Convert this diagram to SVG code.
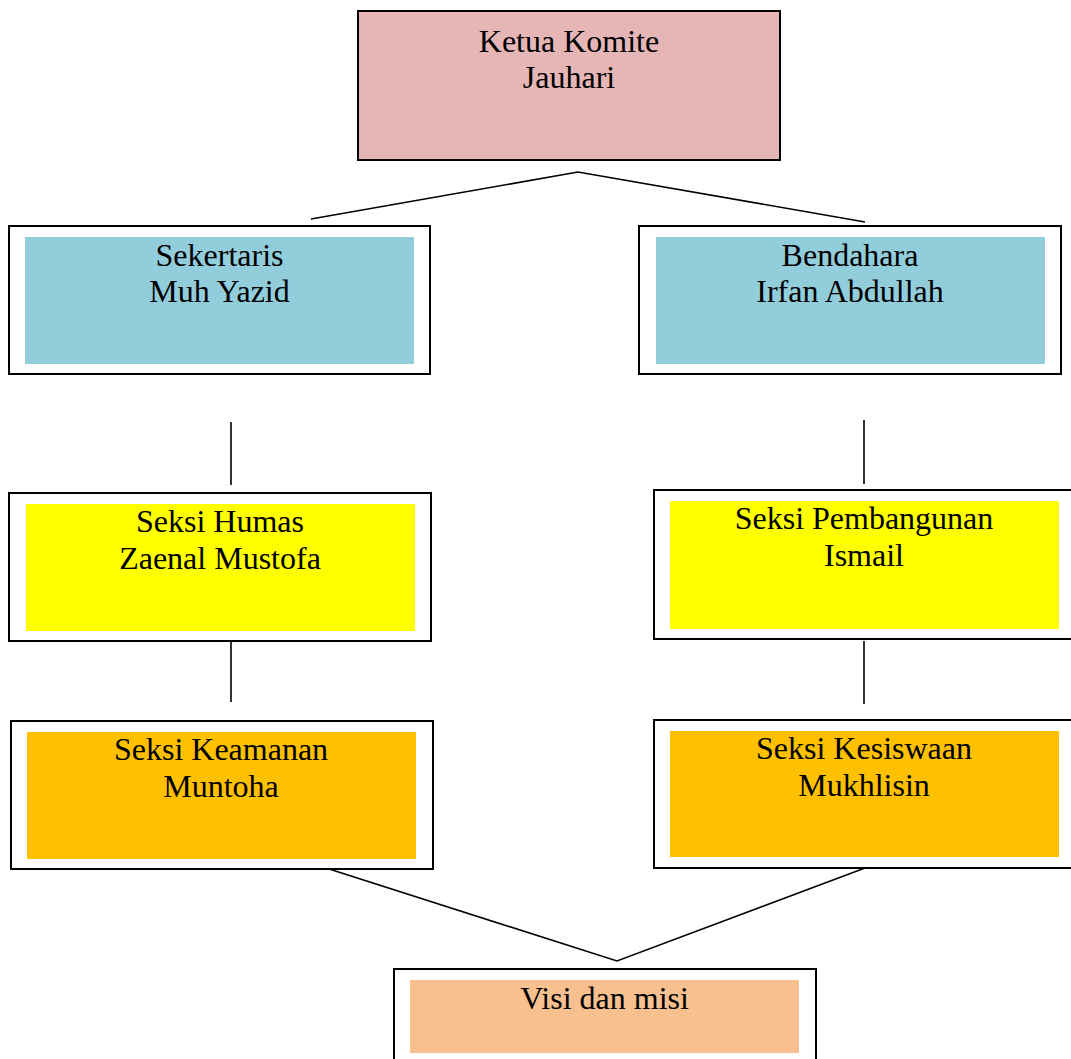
<svg xmlns="http://www.w3.org/2000/svg" width="1071" height="1059" viewBox="0 0 1071 1059">
<style>
.outer{fill:#ffffff;stroke:#000000;stroke-width:2}
.lbl{font-family:"Liberation Serif","Times New Roman",serif;font-size:32px;fill:#000000;text-anchor:middle}
.con{fill:none;stroke:#000000;stroke-width:1.6}
</style>
<rect width="1071" height="1059" fill="#ffffff"/>
<g id="connectors">
<polyline class="con" points="311,219 578,172 865,222"/>
<line class="con" x1="231" y1="422" x2="231" y2="485"/>
<line class="con" x1="864" y1="420" x2="864" y2="484"/>
<line class="con" x1="231" y1="638" x2="231" y2="702"/>
<line class="con" x1="864" y1="641" x2="864" y2="704"/>
<polyline class="con" points="326,868 617,961 865,868"/>
</g>
<g id="ketua">
<rect x="358" y="11" width="422" height="149" fill="#E6B6B7" stroke="#000" stroke-width="2"/>
<text class="lbl" x="569" y="52">Ketua Komite</text>
<text class="lbl" x="569" y="88">Jauhari</text>
</g>
<g id="sekertaris">
<rect class="outer" x="9" y="226" width="421" height="148"/>
<rect x="25" y="237" width="389" height="127" fill="#92CDDC"/>
<text class="lbl" x="219.5" y="266">Sekertaris</text>
<text class="lbl" x="219.5" y="302">Muh Yazid</text>
</g>
<g id="bendahara">
<rect class="outer" x="639" y="226" width="422" height="148"/>
<rect x="656" y="237" width="389" height="127" fill="#92CDDC"/>
<text class="lbl" x="850" y="266">Bendahara</text>
<text class="lbl" x="850" y="302">Irfan Abdullah</text>
</g>
<g id="humas">
<rect class="outer" x="9" y="493" width="422" height="148"/>
<rect x="26" y="504" width="389" height="127" fill="#FFFF00"/>
<text class="lbl" x="220" y="532">Seksi Humas</text>
<text class="lbl" x="220" y="569">Zaenal Mustofa</text>
</g>
<g id="pembangunan">
<rect class="outer" x="654" y="490" width="430" height="149"/>
<rect x="670" y="501" width="389" height="128" fill="#FFFF00"/>
<text class="lbl" x="864" y="529">Seksi Pembangunan</text>
<text class="lbl" x="864" y="566">Ismail</text>
</g>
<g id="keamanan">
<rect class="outer" x="11" y="721" width="422" height="148"/>
<rect x="27" y="732" width="389" height="127" fill="#FFC000"/>
<text class="lbl" x="221" y="760">Seksi Keamanan</text>
<text class="lbl" x="221" y="797">Muntoha</text>
</g>
<g id="kesiswaan">
<rect class="outer" x="654" y="720" width="430" height="148"/>
<rect x="670" y="731" width="389" height="126" fill="#FFC000"/>
<text class="lbl" x="864" y="759">Seksi Kesiswaan</text>
<text class="lbl" x="864" y="796">Mukhlisin</text>
</g>
<g id="visi">
<rect class="outer" x="394" y="969" width="422" height="100"/>
<rect x="410" y="980" width="389" height="73" fill="#F9C08F"/>
<text class="lbl" x="604.5" y="1009">Visi dan misi</text>
</g>
</svg>
